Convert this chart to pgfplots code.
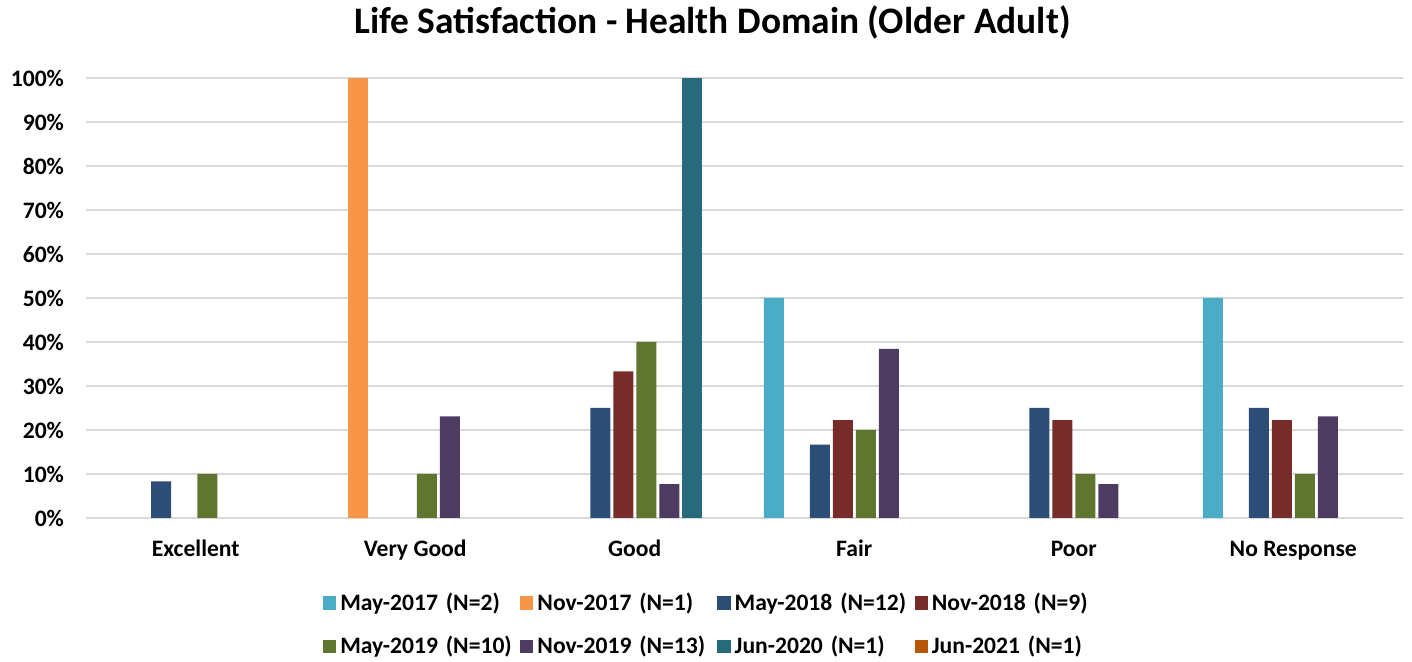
\documentclass[border=0pt]{standalone}
\usepackage{pgfplots}
\pgfplotsset{compat=1.18}
\usepackage{fontspec}
\setmainfont{Carlito}

\definecolor{cMay17}{HTML}{4BACC6}
\definecolor{cNov17}{HTML}{F79646}
\definecolor{cMay18}{HTML}{2C4D75}
\definecolor{cNov18}{HTML}{772C2A}
\definecolor{cMay19}{HTML}{5F7530}
\definecolor{cNov19}{HTML}{4D3B62}
\definecolor{cJun20}{HTML}{276A7C}
\definecolor{cJun21}{HTML}{B65708}
\definecolor{gridgray}{HTML}{D9D9D9}

\begin{document}
\begin{tikzpicture}
% frame of the whole chart, axis box sits at (0,0)-(658.5pt,220pt)
\useasboundingbox (-43pt,-72pt) rectangle (663pt,259pt);
\begin{axis}[
    scale only axis,
    width=658.5pt, height=220pt,
    ybar=1.5pt, bar width=10pt,
    xmin=-0.5, xmax=5.5,
    ymin=0, ymax=100,
    xtick={0,...,5},
    xticklabels={Excellent, Very Good, Good, Fair, Poor, No Response},
    ytick={0,10,...,100},
    yticklabel={\pgfmathprintnumber{\tick}\%},
    /pgf/number format/assume math mode=true,
    tick style={draw=none},
    ymajorgrids, grid style={gridgray, line width=1pt},
    axis x line*=bottom, axis y line*=left,
    x axis line style={gridgray, line width=1pt, -},
    y axis line style={draw=none},
    ticklabel style={font=\fontsize{11.8}{13}\selectfont\bfseries},
    yticklabel style={xshift=-7.5pt},
    xticklabel style={anchor=base, yshift=-15.2pt},
    title={\fontsize{18.7}{21}\selectfont\bfseries Life Satisfaction - Health Domain (Older Adult)},
    title style={at={(0.5,1)}, anchor=center, yshift=22pt, xshift=-16pt},
    every axis plot/.append style={draw=none},
    legend columns=4,
    legend style={at={(0.5,-0.151)}, anchor=north, xshift=-13.5pt, draw=none,
        font=\fontsize{11.8}{13}\selectfont\bfseries,
        row sep=7.3pt,
        nodes={text width=88pt, align=left, inner xsep=2pt}},
    legend image code/.code={\fill[#1] (0pt,-3.3pt) rectangle (6.6pt,3.3pt);},
]
\addplot[fill=cMay17] coordinates {(3,50) (5,50)};
\addplot[fill=cNov17] coordinates {(1,100)};
\addplot[fill=cMay18] coordinates {(0,8.33) (2,25) (3,16.67) (4,25) (5,25)};
\addplot[fill=cNov18] coordinates {(2,33.33) (3,22.22) (4,22.22) (5,22.22)};
\addplot[fill=cMay19] coordinates {(0,10) (1,10) (2,40) (3,20) (4,10) (5,10)};
\addplot[fill=cNov19] coordinates {(1,23.08) (2,7.69) (3,38.46) (4,7.69) (5,23.08)};
\addplot[fill=cJun20] coordinates {(2,100)};
\addplot[fill=cJun21, fill opacity=0,
    legend image code/.code={\fill[cJun21, fill opacity=1] (0pt,-3.3pt) rectangle (6.6pt,3.3pt);}]
    coordinates {(0,0)};
\legend{May-2017 (N=2), Nov-2017 (N=1), May-2018 (N=12), Nov-2018 (N=9),
        May-2019 (N=10), Nov-2019 (N=13), Jun-2020 (N=1), Jun-2021 (N=1)}
\end{axis}
\end{tikzpicture}
\end{document}
